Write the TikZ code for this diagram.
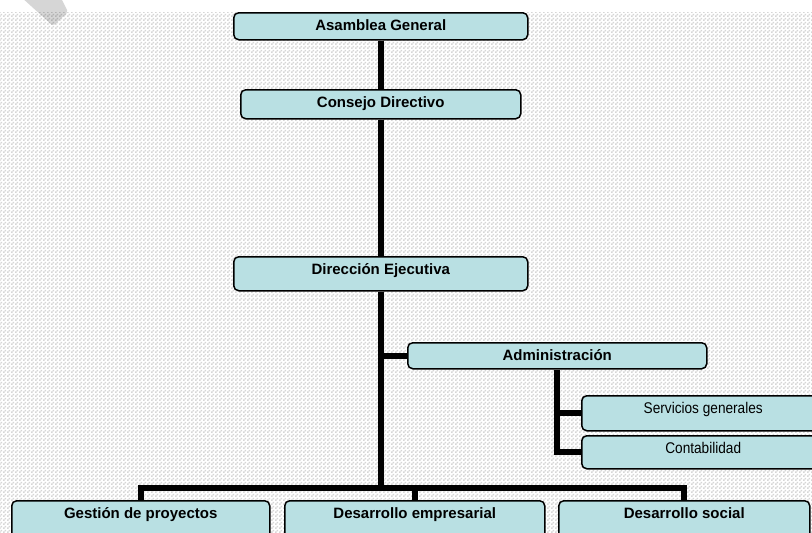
\documentclass[tikz,border=0pt]{standalone}
\usepackage{fontspec}
\setmainfont{Liberation Sans}
\newfontfamily\narrowsans[FakeStretch=0.88]{Liberation Sans}
\usetikzlibrary{patterns}
\definecolor{boxfill}{RGB}{185,224,227}

% fine 2pt checker for the page background
\pgfdeclarepatternformonly{finechecker}{\pgfpointorigin}{\pgfqpoint{4pt}{4pt}}{\pgfqpoint{4pt}{4pt}}{%
  \pgfpathrectangle{\pgfpointorigin}{\pgfqpoint{2pt}{2pt}}%
  \pgfpathrectangle{\pgfqpoint{2pt}{2pt}}{\pgfqpoint{2pt}{2pt}}%
  \pgfusepath{fill}}

\pgfdeclarelayer{backdrop}
\pgfdeclarelayer{links}
\pgfsetlayers{backdrop,links,main}

\begin{document}
\begin{tikzpicture}[x=1pt,y=-1pt,
  orgbox/.style={draw=black, line width=1.5pt, rounded corners=5pt, fill=boxfill,
    inner sep=0pt, anchor=north west, text height=18pt,
    font=\fontsize{15}{18}\selectfont\bfseries},
  subbox/.style={orgbox, font=\fontsize{15.5}{18}\selectfont\narrowsans},
  link/.style={line width=6pt, line join=miter}]

% page area
\useasboundingbox (0,0) rectangle (812,533);
\clip (0,0) rectangle (812,533);
\begin{pgfonlayer}{backdrop}
  \fill[white] (0,0) rectangle (812,533);
  \fill[pattern=finechecker, pattern color=black!16] (0,12) rectangle (812,533);
  \fill[black, opacity=0.16, rounded corners=2pt] (20,-4) -- (53,26) -- (68,12) -- (60,-4) -- cycle;
\end{pgfonlayer}

% boxes
\node[orgbox, minimum width=294pt, text depth=9pt]  (ag)  at (233,12)  {Asamblea General};
\node[orgbox, minimum width=280pt, text depth=11pt] (cd)  at (240,89)  {Consejo Directivo};
\node[orgbox, minimum width=294pt, text depth=16pt] (de)  at (233,256) {Dirección Ejecutiva};
\node[orgbox, minimum width=299pt, text depth=8pt]  (adm) at (407,342) {Administración};
\node[subbox, minimum width=243pt, text depth=17pt] (sg)  at (581,395) {Servicios generales};
\node[subbox, minimum width=243pt, text depth=15pt] (cont) at (581,435) {Contabilidad};
\node[orgbox, minimum width=258pt, text depth=27pt] (gp)  at (11,500)  {Gestión de proyectos};
\node[orgbox, minimum width=260pt, text depth=27pt] (dem) at (284,500) {Desarrollo empresarial};
\node[orgbox, minimum width=251pt, text depth=27pt] (dso) at (558,500) {Desarrollo social};

% connectors
\coordinate (bar) at (380,488);
\begin{pgfonlayer}{links}
  \draw[link] (ag.south) -- (cd.north);
  \draw[link] (cd.south) -- (de.north);
  \draw[link] (de.south) -- (de.south |- bar);
  \draw[link] (gp.north) -- (gp.north |- bar) -- (dso.north |- bar) -- (dso.north);
  \draw[link] (dem.north) -- (dem.north |- bar);
  \draw[link] (de.south |- adm.west) -- (adm.west);
  \draw[link] (adm.south) |- (cont.west);
  \draw[link] (adm.south |- sg.west) -- (sg.west);
\end{pgfonlayer}
\end{tikzpicture}
\end{document}
